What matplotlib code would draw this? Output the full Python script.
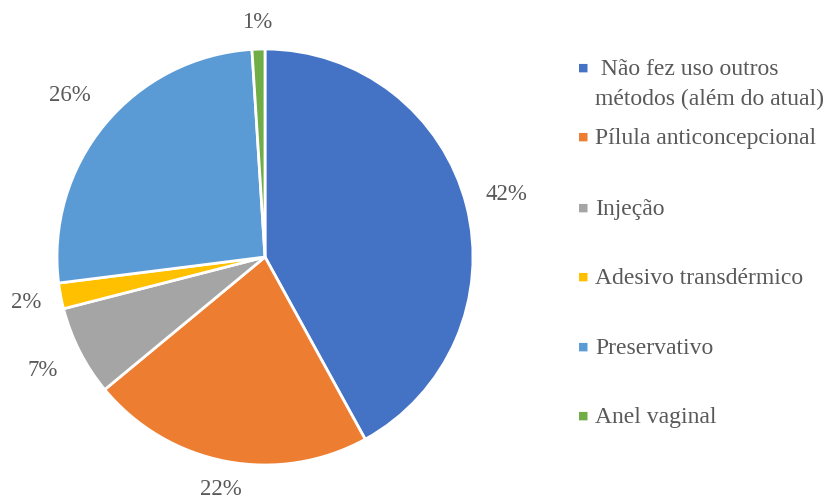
import matplotlib.pyplot as plt

labels = [
    " Não fez uso outros\nmétodos (além do atual)",
    "Pílula anticoncepcional",
    "Injeção",
    "Adesivo transdérmico",
    "Preservativo",
    "Anel vaginal",
]
values = [42, 22, 7, 2, 26, 1]
colors = ["#4472C4", "#ED7D31", "#A5A5A5", "#FFC000", "#5B9BD5", "#70AD47"]

plt.rcParams["font.family"] = ["Liberation Serif", "DejaVu Serif"]
TEXT = "#595959"

W, H = 834, 497
fig = plt.figure(figsize=(W / 100, H / 100), dpi=100)

cx, cy, r = 265, 257, 208
ax = fig.add_axes([(cx - r) / W, (H - cy - r) / H, 2 * r / W, 2 * r / H])
wedges, _, pcts = ax.pie(
    values,
    colors=colors,
    startangle=90,
    counterclock=False,
    autopct="%d%%",
    pctdistance=1.2,
    radius=1,
    wedgeprops={"edgecolor": "white", "linewidth": 2},
    textprops={"fontsize": 16.5, "color": TEXT},
)
# pull a couple of labels in, as in the original
label_dist = [1.2, 1.14, 1.2, 1.17, 1.22, 1.13]
for t, d in zip(pcts, label_dist):
    x, y = t.get_position()
    t.set_position((x * d / 1.2, y * d / 1.2))

ax.set_xlim(-1, 1)
ax.set_ylim(-1, 1)
ax.set_aspect("equal")
ax.axis("off")

# legend drawn by hand to match the spacing of the original
ys = [68, 137, 208, 277, 347, 416]
for lab, col, y in zip(labels, colors, ys):
    fig.text(583 / W, 1 - y / H, "■", color=col, fontsize=8,
             ha="center", va="center", family="DejaVu Sans")
    fig.text(595 / W, 1 - (y - 9) / H, lab, color=TEXT, fontsize=17,
             ha="left", va="top", linespacing=1.55)

fig.savefig("out.png", dpi=100)
